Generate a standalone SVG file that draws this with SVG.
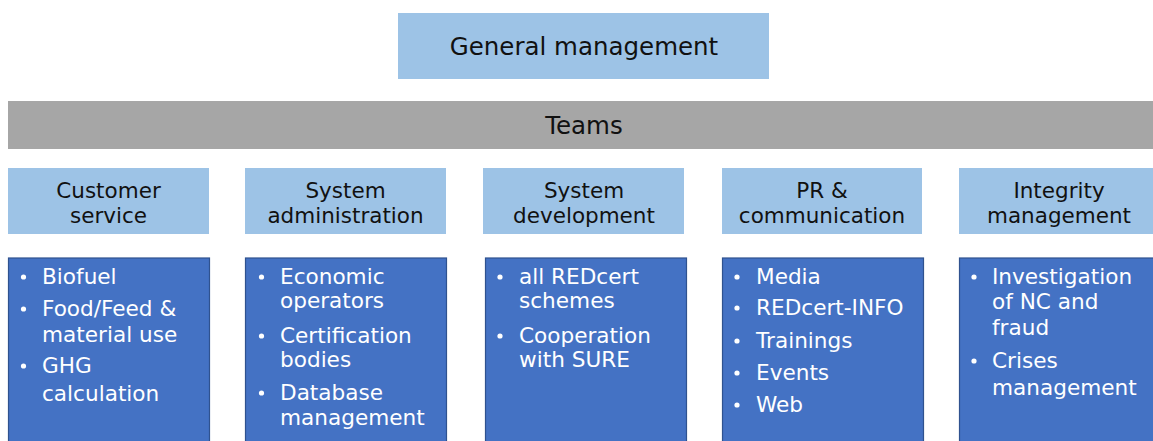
<svg xmlns="http://www.w3.org/2000/svg" width="1153" height="441" viewBox="0 0 1153 441">
<style>
.hdr{fill:#9dc3e6;}
.body{fill:#4472c4;stroke:#2f528f;stroke-width:1.2;}
.t{font-family:"DejaVu Sans",Verdana,sans-serif;font-size:21.5px;fill:#111;text-anchor:middle;}
.big{font-size:24.5px;}
.b{font-family:"DejaVu Sans",Verdana,sans-serif;font-size:21.6px;fill:#fff;}
.dot{fill:#fff;}
</style>
<rect width="1153" height="441" fill="#fff"/>
<g id="general">
<rect class="hdr" x="398" y="13" width="371" height="66"/>
<text class="t big" x="584" y="55">General management</text>
</g>
<g id="teams">
<rect x="8" y="101" width="1150" height="48" fill="#a6a6a6"/>
<text class="t big" x="584" y="134">Teams</text>
</g>
<g id="connectors"></g>
<g id="customer-service">
<rect class="hdr" x="8" y="168" width="201" height="66"/>
<text class="t" x="108.5" y="198">Customer</text>
<text class="t" x="108.5" y="223">service</text>
<rect class="body" x="8.5" y="258" width="201" height="190"/>
<g class="b">
<text x="42" y="284">Biofuel</text>
<text x="42" y="316">Food/Feed &amp;</text>
<text x="42" y="342">material use</text>
<text x="42" y="373">GHG</text>
<text x="42" y="401">calculation</text>
</g>
<circle class="dot" cx="23.5" cy="277" r="2.6"/>
<circle class="dot" cx="23.5" cy="309" r="2.6"/>
<circle class="dot" cx="23.5" cy="366" r="2.6"/>
</g>
<g id="system-administration">
<rect class="hdr" x="245" y="168" width="201" height="66"/>
<text class="t" x="345.5" y="198">System</text>
<text class="t" x="345.5" y="223">administration</text>
<rect class="body" x="245.5" y="258" width="201" height="190"/>
<g class="b">
<text x="280" y="284">Economic</text>
<text x="280" y="308">operators</text>
<text x="280" y="343">Certification</text>
<text x="280" y="367">bodies</text>
<text x="280" y="400">Database</text>
<text x="280" y="425">management</text>
</g>
<circle class="dot" cx="261.5" cy="277" r="2.6"/>
<circle class="dot" cx="261.5" cy="336" r="2.6"/>
<circle class="dot" cx="261.5" cy="393" r="2.6"/>
</g>
<g id="system-development">
<rect class="hdr" x="483" y="168" width="201" height="66"/>
<text class="t" x="584" y="198">System</text>
<text class="t" x="584" y="223">development</text>
<rect class="body" x="485.5" y="258" width="201" height="190"/>
<g class="b">
<text x="519" y="284">all REDcert</text>
<text x="519" y="308">schemes</text>
<text x="519" y="343">Cooperation</text>
<text x="519" y="367">with SURE</text>
</g>
<circle class="dot" cx="500" cy="277" r="2.6"/>
<circle class="dot" cx="500" cy="336" r="2.6"/>
</g>
<g id="pr-communication">
<rect class="hdr" x="722" y="168" width="200" height="66"/>
<text class="t" x="822" y="198">PR &amp;</text>
<text class="t" x="822" y="223">communication</text>
<rect class="body" x="722.5" y="258" width="201" height="190"/>
<g class="b">
<text x="756" y="284">Media</text>
<text x="756" y="315">REDcert-INFO</text>
<text x="756" y="348">Trainings</text>
<text x="756" y="380">Events</text>
<text x="756" y="412">Web</text>
</g>
<circle class="dot" cx="737" cy="277" r="2.6"/>
<circle class="dot" cx="737" cy="308" r="2.6"/>
<circle class="dot" cx="737" cy="341" r="2.6"/>
<circle class="dot" cx="737" cy="373" r="2.6"/>
<circle class="dot" cx="737" cy="405" r="2.6"/>
</g>
<g id="integrity-management">
<rect class="hdr" x="959" y="168" width="200" height="66"/>
<text class="t" x="1059" y="198">Integrity</text>
<text class="t" x="1059" y="223">management</text>
<rect class="body" x="959.5" y="258" width="201" height="190"/>
<g class="b">
<text x="992" y="284">Investigation</text>
<text x="992" y="309">of NC and</text>
<text x="992" y="335">fraud</text>
<text x="992" y="368">Crises</text>
<text x="992" y="395">management</text>
</g>
<circle class="dot" cx="974" cy="277" r="2.6"/>
<circle class="dot" cx="974" cy="361" r="2.6"/>
</g>
</svg>
